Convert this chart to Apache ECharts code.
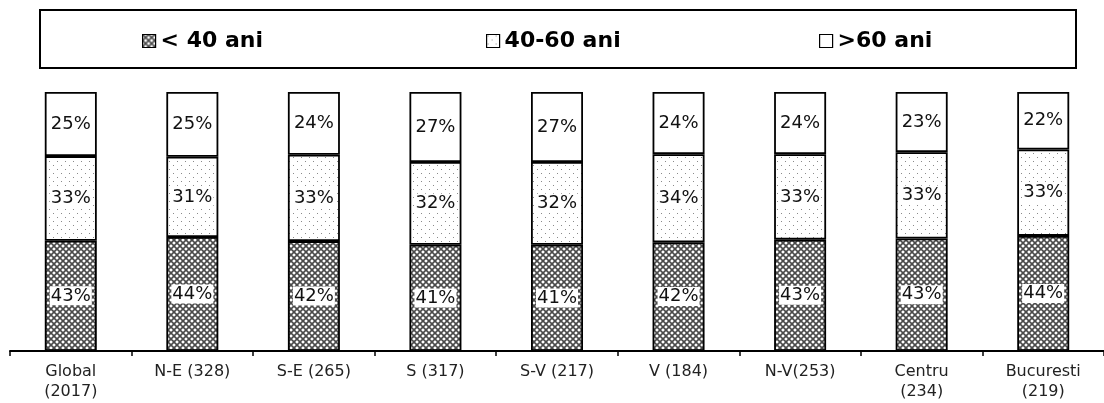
<!DOCTYPE html>
<html>
<head>
<meta charset="utf-8">
<script src="https://cdn.jsdelivr.net/npm/echarts@6/dist/echarts.min.js"></script>
<style>
  html, body { margin: 0; padding: 0; background: #fff; }
  #chart { width: 1104px; height: 403px; }
</style>
</head>
<body>
<div id="chart"></div>
<script>
// Regions with sample size
const categories = ['Global\n(2017)', 'N-E (328)', 'S-E (265)', 'S (317)', 'S-V (217)', 'V (184)', 'N-V(253)', 'Centru\n(234)', 'Bucuresti\n(219)'];
const seriesNames = ['< 40 ani', '40-60 ani', '>60 ani'];
// Percentages per age group
const under40 = [43, 44, 42, 41, 41, 42, 43, 43, 44];
const from40to60 = [33, 31, 33, 32, 32, 34, 33, 33, 33];
const over60 = [25, 25, 24, 27, 27, 24, 24, 23, 22];

const groups = [under40, from40to60, over60];
// Each column is scaled to a full 100% stack; labels keep the rounded percentages
const totals = categories.map((_, i) => groups.reduce((s, g) => s + g[i], 0));

function makePattern(size, draw) {
  const c = document.createElement('canvas');
  c.width = size; c.height = size;
  const ctx = c.getContext('2d');
  ctx.fillStyle = '#fff';
  ctx.fillRect(0, 0, size, size);
  draw(ctx, size);
  return { image: c, repeat: 'repeat' };
}

// diagonal cross-hatch
const hatch = makePattern(6, (ctx, s) => {
  ctx.strokeStyle = '#4a4a4a';
  ctx.lineWidth = 1.6;
  ctx.beginPath();
  ctx.moveTo(-1, -1); ctx.lineTo(s + 1, s + 1);
  ctx.moveTo(-1, s + 1); ctx.lineTo(s + 1, -1);
  ctx.stroke();
});

// sparse dots
const dots = makePattern(8, (ctx) => {
  ctx.fillStyle = '#8a8a8a';
  ctx.fillRect(1, 1, 1, 1);
  ctx.fillRect(5, 5, 1, 1);
});

const fills = [hatch, dots, '#ffffff'];

const series = groups.map((g, k) => ({
  name: seriesNames[k],
  type: 'bar',
  stack: 'age',
  barWidth: 52,
  data: g.map((v, i) => ({ value: v / totals[i] * 100, raw: v })),
  itemStyle: { color: fills[k], borderColor: '#000', borderWidth: 1.8 },
  label: {
    show: true,
    position: 'inside',
    formatter: p => p.data.raw + '%',
    fontFamily: 'DejaVu Sans',
    fontSize: 18,
    color: '#111',
    backgroundColor: '#fff',
    padding: [1, 1, 0, 1]
  }
}));

const legendBase = {
  top: 25,
  itemWidth: 13,
  itemHeight: 13,
  icon: 'rect',
  itemGap: 6,
  itemStyle: { borderColor: '#000', borderWidth: 1.2 },
  textStyle: { fontFamily: 'DejaVu Sans', fontWeight: 'bold', fontSize: 22, color: '#000' },
  selectedMode: false
};

const chart = echarts.init(document.getElementById('chart'), null, { renderer: 'canvas' });
chart.setOption({
  animation: false,
  backgroundColor: '#fff',
  graphic: [{
    type: 'rect',
    shape: { x: 40, y: 10, width: 1036, height: 58 },
    style: { fill: 'none', stroke: '#000', lineWidth: 2 }
  }],
  legend: [
    Object.assign({}, legendBase, { left: 137, data: [seriesNames[0]] }),
    Object.assign({}, legendBase, { left: 481, data: [seriesNames[1]] }),
    Object.assign({}, legendBase, { left: 814, data: [seriesNames[2]] })
  ],
  grid: { left: 10, top: 92, bottom: 52, width: 1102 },
  xAxis: {
    type: 'category',
    data: categories,
    axisLine: { lineStyle: { color: '#000', width: 2 } },
    axisTick: { show: true, length: 5, lineStyle: { color: '#000', width: 1.5 } },
    axisLabel: { fontFamily: 'DejaVu Sans', fontSize: 16, color: '#222', margin: 11, lineHeight: 20, interval: 0 }
  },
  yAxis: { type: 'value', min: 0, max: 100, show: false, splitLine: { show: false } },
  series: series
});
</script>
</body>
</html>
